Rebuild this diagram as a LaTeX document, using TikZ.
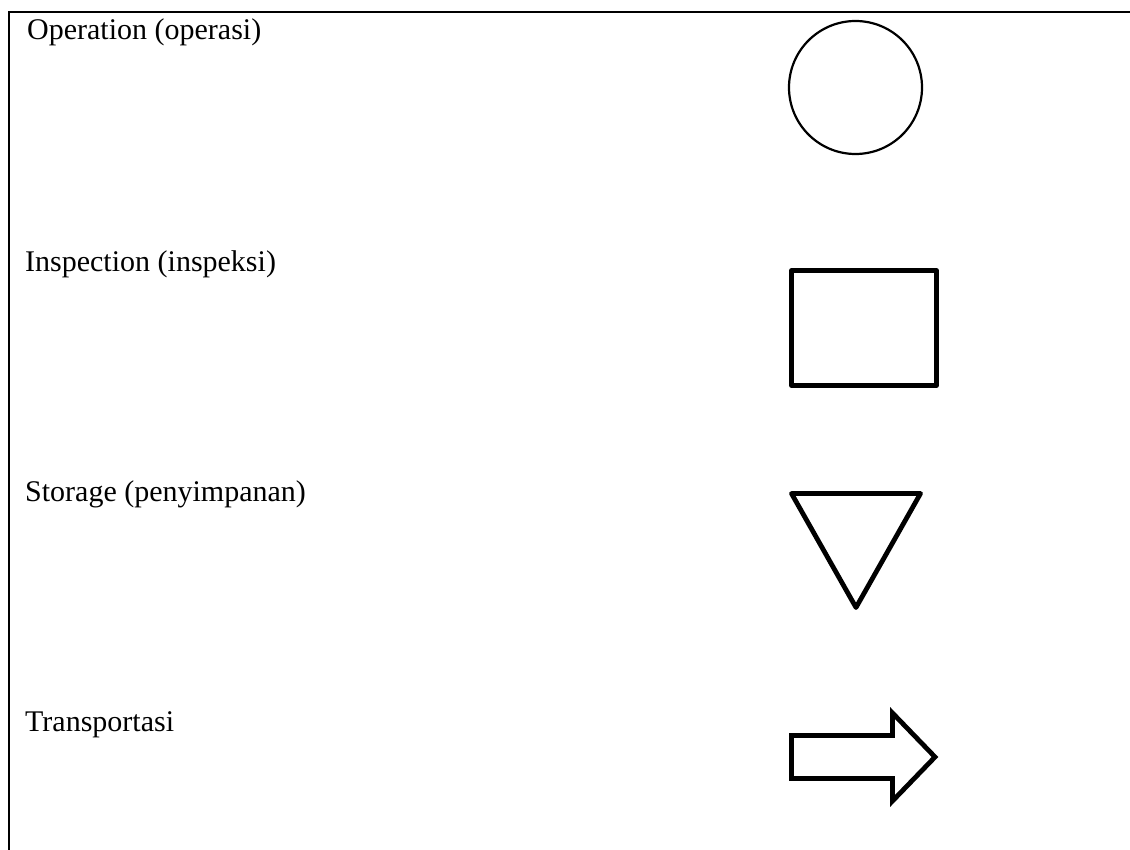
\documentclass[tikz,border=0pt]{standalone}
\usepackage{fontspec}
\setmainfont{Liberation Serif}
\begin{document}
\begin{tikzpicture}[x=1pt,y=-1pt,
  lbl/.style={anchor=base west,inner sep=0pt,font=\fontsize{30}{36}\selectfont},
  frameline/.style={line width=2pt,black},
  sym/.style={line width=4.8pt,black}]
\useasboundingbox (0,0) rectangle (1130,850);
\draw[frameline] (9,850) -- (9,12) -- (1130,12);
\node[lbl] (op) at (27,40) {Operation (operasi)};
\node[lbl] (insp) at (25,272) {Inspection (inspeksi)};
\node[lbl] (stor) at (25,501) {Storage (penyimpanan)};
\node[lbl] (trans) at (25,731) {Transportasi};
% operation symbol
\draw[line width=2.2pt] (855.5,87.5) circle (66.5);
% inspection symbol
\draw[sym,line join=round] (791.5,270.5) rectangle (936.5,385.5);
% storage symbol
\draw[sym,line join=round] (791.5,493.5) -- (920.5,493.5) -- (856,607.5) -- cycle;
% transport symbol
\draw[sym,line join=miter] (791.5,735.5) -- (892.5,735.5) -- (892.5,713) -- (935,757) -- (892.5,801) -- (892.5,778.5) -- (791.5,778.5) -- cycle;
\end{tikzpicture}
\end{document}
